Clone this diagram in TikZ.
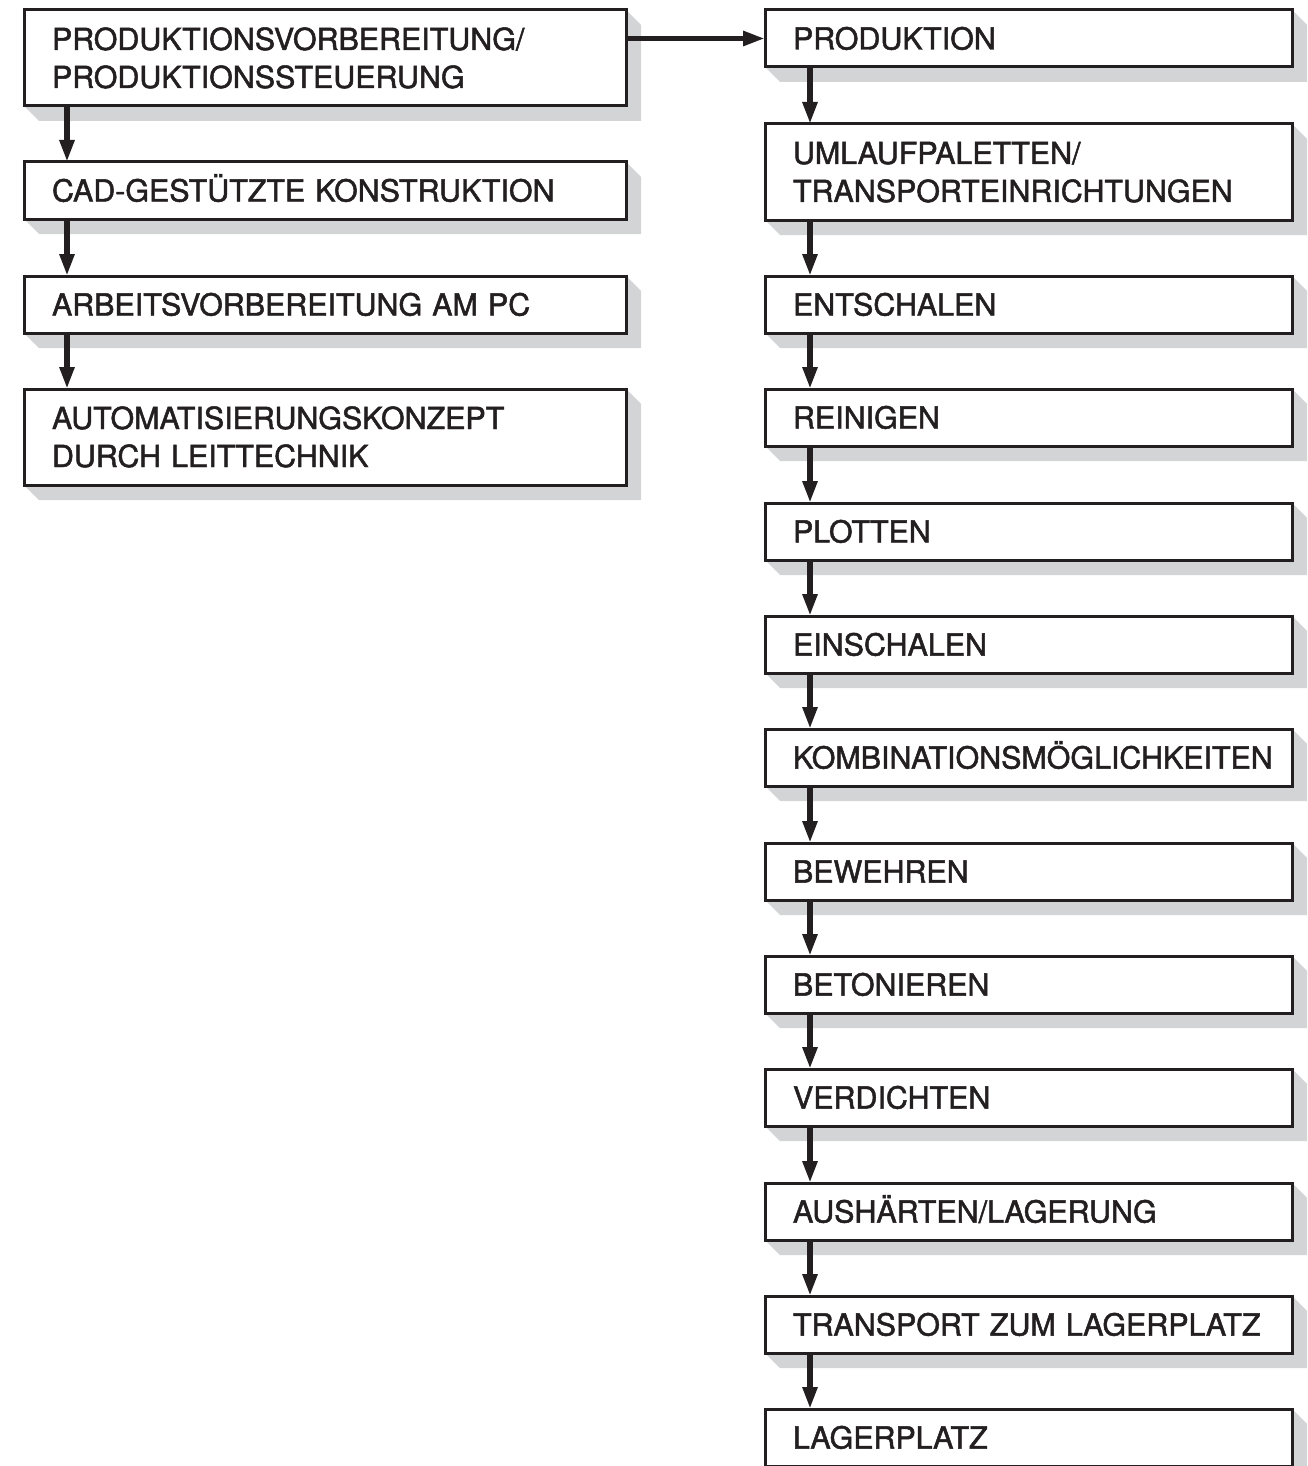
\documentclass[tikz,border=0pt]{standalone}
\usepackage{fontspec}
\setmainfont{TeX Gyre Heros}
\newfontfamily\boxfont[FakeBold=1.6]{TeX Gyre Heros}
\usetikzlibrary{arrows.meta,backgrounds}
\definecolor{ink}{HTML}{231F20}
\definecolor{shadegray}{HTML}{D3D4D6}
\tikzset{
  box/.style={draw=ink, line width=3pt, fill=white, rectangle, anchor=north west,
    outer sep=0pt, inner xsep=28pt, inner ysep=0pt, align=left,
    font=\boxfont\fontsize{30.4}{38}\selectfont, text=ink,
    execute at begin node={\hyphenpenalty=10000\exhyphenpenalty=10000\relax}},
  lbox/.style={box, minimum width=602pt, text width=546pt},
  rbox/.style={box, minimum width=527pt, text width=471pt},
  one/.style={minimum height=57pt, text height=22pt, text depth=0pt},
  two/.style={minimum height=96pt, text height=22pt, text depth=38pt},
  arr/.style={draw=ink, line width=5.5pt, -{Triangle[length=22pt,width=14pt]}},
}
\begin{document}
\begin{tikzpicture}[x=1pt,y=-1pt]
\useasboundingbox (0,0) rectangle (1307,1466);
% left column
\node[lbox,two] (l1) at (24,10) {PRODUKTIONSVORBEREITUNG/\\PRODUKTIONSSTEUERUNG};
\node[lbox,one] (l2) at (24,162) {CAD-GESTÜTZTE KONSTRUKTION};
\node[lbox,one] (l3) at (24,276) {ARBEITSVORBEREITUNG AM PC};
\node[lbox,two] (l4) at (24,389) {AUTOMATISIERUNGSKONZEPT\\DURCH LEITTECHNIK};
% right column
\node[rbox,one] (r1) at (765,10) {PRODUKTION};
\node[rbox,two] (r2) at (765,124) {UMLAUFPALETTEN/\\TRANSPORTEINRICHTUNGEN};
\node[rbox,one] (r3) at (765,276) {ENTSCHALEN};
\node[rbox,one] (r4) at (765,389) {REINIGEN};
\node[rbox,one] (r5) at (765,503) {PLOTTEN};
\node[rbox,one] (r6) at (765,616) {EINSCHALEN};
\node[rbox,one] (r7) at (765,729) {KOMBINATIONSMÖGLICHKEITEN};
\node[rbox,one] (r8) at (765,843) {BEWEHREN};
\node[rbox,one] (r9) at (765,956) {BETONIEREN};
\node[rbox,one] (r10) at (765,1069) {VERDICHTEN};
\node[rbox,one] (r11) at (765,1183) {AUSHÄRTEN/LAGERUNG};
\node[rbox,one] (r12) at (765,1296) {TRANSPORT ZUM LAGERPLATZ};
\node[rbox,one] (r13) at (765,1409) {LAGERPLATZ};
% shadows
\begin{scope}[on background layer]
\foreach \n in {l1,l2,l3,l4,r1,r2,r3,r4,r5,r6,r7,r8,r9,r10,r11,r12,r13}{
  \fill[shadegray] (\n.north east) -- ([shift={(15,15)}]\n.north east)
    -- ([shift={(15,15)}]\n.south east) -- ([shift={(15,15)}]\n.south west)
    -- (\n.south west) -- (\n.south east) -- cycle;
}
\end{scope}
% connectors
\foreach \a/\b in {l1/l2,l2/l3,l3/l4}{
  \draw[arr] ([xshift=43pt]\a.south west) -- ([xshift=43pt]\b.north west);
}
\foreach \a/\b in {r1/r2,r2/r3,r3/r4,r4/r5,r5/r6,r6/r7,r7/r8,r8/r9,r9/r10,r10/r11,r11/r12,r12/r13}{
  \draw[arr] ([xshift=45pt]\a.south west) -- ([xshift=45pt]\b.north west);
}
\draw[arr] (r1.west -| l1.east) -- (r1.west);
\end{tikzpicture}
\end{document}
